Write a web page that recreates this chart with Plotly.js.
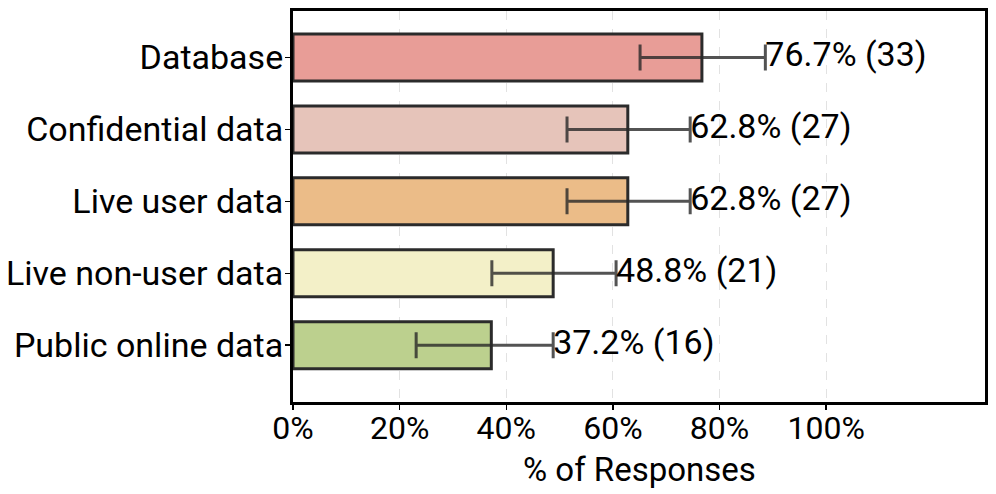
<!DOCTYPE html>
<html>
<head>
<meta charset="utf-8">
<script src="https://cdn.plot.ly/plotly-3.0.1.min.js"></script>
<style>html,body{margin:0;padding:0;background:#fff;}#chart{width:996px;height:494px;}</style>
</head>
<body>
<div id="chart"></div>
<script>
const categories = ["Database", "Confidential data", "Live user data", "Live non-user data", "Public online data"];
const percents = [76.7, 62.8, 62.8, 48.8, 37.2];
const counts = [33, 27, 27, 21, 16];
const errPlus = [11.9, 11.7, 11.7, 11.8, 11.6];
const errMinus = [11.6, 11.4, 11.4, 11.5, 14.1];
const barColors = ["#e89d97", "#e6c4ba", "#ebbc88", "#f3f0c8", "#bcd08e"];
const xTickVals = [0, 20, 40, 60, 80, 100];
const xTickText = ["0%", "20%", "40%", "60%", "80%", "100%"];
const xTitle = "% of Responses";

const FONT = "Roboto, 'Noto Sans', sans-serif";
const FS = 34;

const bars = {
  type: "bar",
  orientation: "h",
  y: categories,
  x: percents,
  width: 0.654,
  marker: {color: barColors, line: {color: "#2b2b2b", width: 3}},
  error_x: {
    type: "data", symmetric: false,
    array: errPlus, arrayminus: errMinus,
    color: "rgba(40,40,40,0.8)", thickness: 3, width: 13
  },
  hoverinfo: "none",
  showlegend: false
};

const labels = {
  type: "scatter",
  mode: "text",
  y: categories,
  x: percents.map((p, i) => p + errPlus[i]),
  text: percents.map((p, i) => p.toFixed(1) + "% (" + counts[i] + ")"),
  textposition: "middle right",
  textfont: {family: FONT, size: FS, color: "#000"},
  hoverinfo: "none",
  showlegend: false,
  cliponaxis: false
};

const layout = {
  width: 996, height: 494,
  margin: {l: 293, r: 11, t: 11, b: 92},
  paper_bgcolor: "#fff", plot_bgcolor: "#fff",
  font: {family: FONT, size: FS, color: "#000"},
  xaxis: {
    range: [0, 129.8],
    tickvals: xTickVals, ticktext: xTickText,
    showgrid: true, gridcolor: "#e2e2e2", griddash: "dash", gridwidth: 1,
    zeroline: false,
    showline: true, linecolor: "#000", linewidth: 3, mirror: true,
    ticks: "outside", ticklen: 5, tickwidth: 1.5, tickcolor: "#000",
    tickfont: {family: FONT, size: 32, color: "#000"},
    ticklabelstandoff: -9
  },
  yaxis: {
    type: "category",
    range: [4.79, -0.647],
    showgrid: false, zeroline: false,
    showline: true, linecolor: "#000", linewidth: 3, mirror: true,
    ticks: "outside", ticklen: 5, tickwidth: 1.5, tickcolor: "#000",
    tickfont: {family: FONT, size: FS, color: "#000"},
    ticklabelstandoff: -5
  },
  annotations: [{
    text: xTitle, xref: "paper", yref: "paper", x: 0.5, y: 0,
    xanchor: "center", yanchor: "middle", yshift: -67, showarrow: false,
    font: {family: FONT, size: 33, color: "#000"}
  }]
};

Plotly.newPlot("chart", [bars, labels], layout, {displayModeBar: false, staticPlot: true});
</script>
</body>
</html>
